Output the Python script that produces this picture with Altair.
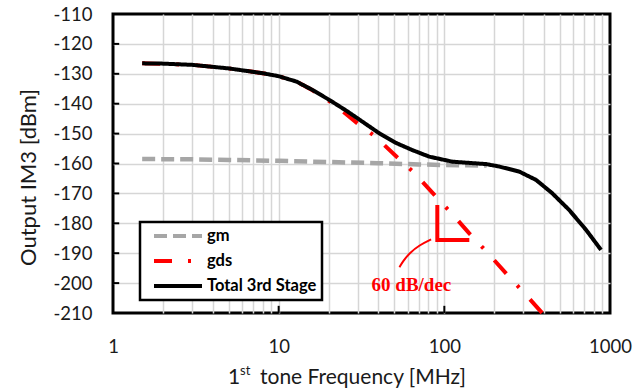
import altair as alt
import pandas as pd

# Output IM3 of the 3rd stage versus 1st-tone frequency
series_names = ["gm", "gds", "Total 3rd Stage"]

freq_gm = [1.5, 3, 5, 10, 20, 40, 70, 100, 140, 180]
im3_gm = [-158.5, -158.6, -158.8, -159.1, -159.5, -159.9, -160.3, -160.5, -160.6, -160.7]

freq_gds = [1.5, 3, 5, 8, 10, 12.8, 16, 20.3, 25.7, 30.7, 38, 51, 66, 89.5, 112, 141, 180, 246, 300, 390]
im3_gds = [-126.5, -127.0, -128.2, -129.8, -130.8, -132.6, -135.5, -139.2, -143.6, -147.1,
           -150.8, -157.5, -163.2, -171.2, -177.0, -183.3, -189.5, -197.9, -203.0, -210.0]

freq_total = [1.5, 2, 3, 5, 8, 10, 12.8, 16, 20.3, 25.7, 32, 40.5, 51, 64, 81, 112, 179, 214,
              283, 358, 447, 566, 717, 883]
im3_total = [-126.5, -126.6, -127.0, -128.2, -129.8, -130.8, -132.6, -135.4, -138.8, -142.4,
             -146.0, -149.9, -153.1, -155.5, -157.7, -159.4, -160.2, -161.0, -162.7, -165.5,
             -169.9, -175.5, -182.2, -188.9]

# 60 dB/dec slope marker and its leader
slope_freq = [90.7, 90.7, 141.5]
slope_im3 = [-173.9, -185.6, -185.6]
leader_freq = [83.2, 70.7, 61.5, 56.1, 53.6]
leader_im3 = [-185.4, -187.3, -190.0, -192.8, -194.7]
slope_label = "60 dB/dec"
slope_label_freq = 63.3
slope_label_im3 = -200.6

x_ticks_major = [10, 100]
y_ticks = [-120, -130, -140, -150, -160, -170, -180, -190, -200]
x_grid_vals = [1, 2, 3, 4, 5, 6, 7, 8, 9, 10, 20, 30, 40, 50, 60, 70, 80, 90,
               100, 200, 300, 400, 500, 600, 700, 800, 900, 1000]
y_vals = [-110, -120, -130, -140, -150, -160, -170, -180, -190, -200, -210]

colors = ["#a6a6a6", "#ff0000", "#000000"]
dashes = [[13, 6], [18, 16, 3, 16], [1, 0]]

W, H = 497, 299

frames = []
for name, f, v in zip(series_names, [freq_gm, freq_gds, freq_total], [im3_gm, im3_gds, im3_total]):
    frames.append(pd.DataFrame({"series": name, "freq": f, "im3": v}))
df = pd.concat(frames, ignore_index=True)

x_scale = alt.Scale(type="log", domain=[1, 1000])
y_scale = alt.Scale(domain=[-210, -110])

x_axis = alt.Axis(
    values=x_grid_vals,
    labelExpr="indexof([1, 10, 100, 1000], datum.value) >= 0 ? format(datum.value, 'd') : ''",
    title=None, ticks=False, domain=False, labelPadding=24, labelOverlap=False,
    labelFont="Lato", labelFontSize=18.5, labelColor="#1a1a1a", labelFlush=False,
    gridColor="#d6d6d6", gridWidth=1.5,
    gridOpacity={"condition": {"test": "datum.value == 1 || datum.value == 1000", "value": 0}, "value": 1},
)
y_axis = alt.Axis(
    values=y_vals,
    labelExpr="'-' + abs(datum.value)",
    title="Output IM3 [dBm]", titleFont="Lato", titleFontSize=22, titleFontWeight="normal",
    titleColor="#1a1a1a", titleX=-85, titleY=163, titleAngle=270, titleAlign="center",
    titleBaseline="middle",
    ticks=False, domain=False, labelPadding=21, labelOverlap=False,
    labelFont="Lato", labelFontSize=18.5, labelColor="#1a1a1a",
    gridColor="#d6d6d6", gridWidth=1.5,
    gridOpacity={"condition": {"test": "datum.value == -110 || datum.value == -210", "value": 0}, "value": 1},
)

X = lambda field: alt.X(field, scale=x_scale, axis=x_axis)
Y = lambda field: alt.Y(field, scale=y_scale, axis=y_axis)

legend = alt.Legend(
    title=None, orient="none", legendX=27, legendY=208, direction="vertical",
    symbolType="stroke", symbolSize=2304, symbolStrokeWidth=4, symbolOffset=7,
    clipHeight=18, rowPadding=7, padding=5, labelOffset=3,
    labelFont="Lato", labelFontWeight="bold", labelFontSize=16.5, labelColor="black",
    strokeColor="black", fillColor="white", cornerRadius=0,
)
color_enc = alt.Color("series:N", scale=alt.Scale(domain=series_names, range=colors), legend=legend)
dash_enc = alt.StrokeDash("series:N", scale=alt.Scale(domain=series_names, range=dashes), legend=legend)

base = alt.Chart(df)
layers = []
for i, name in enumerate(series_names):
    layers.append(
        base.transform_filter(alt.datum.series == name)
        .mark_line(strokeWidth=[4.5, 4, 4][i], strokeCap="butt")
        .encode(x=X("freq:Q"), y=Y("im3:Q"), color=color_enc, strokeDash=dash_enc)
    )

slope_df = pd.DataFrame({"freq": slope_freq, "im3": slope_im3, "k": range(len(slope_freq))})
slope = alt.Chart(slope_df).mark_line(color="#ff0000", strokeWidth=4, strokeJoin="miter", strokeCap="butt").encode(
    x=X("freq:Q"), y=Y("im3:Q"), order="k:Q")

leader_df = pd.DataFrame({"freq": leader_freq, "im3": leader_im3, "k": range(len(leader_freq))})
leader = alt.Chart(leader_df).mark_line(color="#ff0000", strokeWidth=2, interpolate="basis").encode(
    x=X("freq:Q"), y=Y("im3:Q"), order="k:Q")

label_df = pd.DataFrame({"freq": [slope_label_freq], "im3": [slope_label_im3], "text": [slope_label]})
label = alt.Chart(label_df).mark_text(
    font="Liberation Serif", fontSize=19, fontWeight="bold", color="#ff0000",
    align="center", baseline="middle").encode(
    x=X("freq:Q"), y=Y("im3:Q"), text="text:N")

# inner tick marks on the bottom and left frame
xt_df = pd.DataFrame({"freq": x_ticks_major, "lo": -210, "hi": -207.6})
xticks = alt.Chart(xt_df).mark_rule(color="black", strokeWidth=2).encode(
    x=X("freq:Q"), y=Y("lo:Q"), y2="hi:Q")
yt_df = pd.DataFrame({"im3": y_ticks, "lo": 1.0, "hi": 1.09})
yticks = alt.Chart(yt_df).mark_rule(color="black", strokeWidth=2).encode(
    y=Y("im3:Q"), x=X("lo:Q"), x2="hi:Q")

# x-axis title with superscript ordinal
title_df = pd.DataFrame({"a": [0]})
t_one = alt.Chart(title_df).mark_text(font="Lato", fontSize=21, color="#1a1a1a", align="left",
                                      baseline="alphabetic").encode(
    x=alt.value(115), y=alt.value(370), text=alt.value("1"))
t_sup = alt.Chart(title_df).mark_text(font="Lato", fontSize=13, color="#1a1a1a", align="left",
                                      baseline="alphabetic").encode(
    x=alt.value(127), y=alt.value(361), text=alt.value("st"))
t_rest = alt.Chart(title_df).mark_text(font="Lato", fontSize=21, color="#1a1a1a", align="left",
                                       baseline="alphabetic").encode(
    x=alt.value(147), y=alt.value(370), text=alt.value("tone Frequency [MHz]"))

chart = alt.layer(*layers, slope, leader, label, xticks, yticks, t_one, t_sup, t_rest).properties(
    width=W, height=H,
    autosize=alt.AutoSizeParams(type="none"),
    padding={"left": 113, "top": 14, "right": 32, "bottom": 77},
    background="white",
).configure_view(
    stroke="black", strokeWidth=3,
).configure_legend(
    strokeWidth=2.5,
).configure_axis(
    labelOverlap=False,
)

chart.save("out.html", embed_options={"renderer": "svg", "actions": False})
